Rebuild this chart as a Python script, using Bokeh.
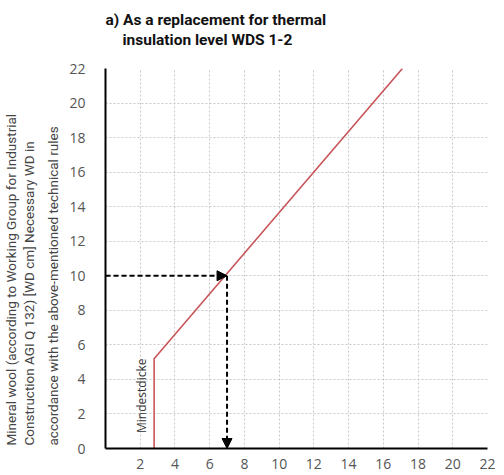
from bokeh.plotting import figure
from bokeh.models import Range1d, FixedTicker, Title, Arrow, NormalHead, Label
from bokeh.embed import file_html
from bokeh.resources import INLINE

# data
curve_x = [2.8, 2.8, 17.1]
curve_y = [0, 5.2, 22]
h_arrow = dict(x_start=0, y_start=10, x_end=7, y_end=10)
v_arrow = dict(x_start=7, y_start=10, x_end=7, y_end=0)
x_ticks = [2, 4, 6, 8, 10, 12, 14, 16, 18, 20, 22]
y_ticks = [0, 2, 4, 6, 8, 10, 12, 14, 16, 18, 20, 22]
title_1 = "a) As a replacement for thermal"
title_2 = "insulation level WDS 1-2"
y_label_lines = ["Mineral wool (according to Working Group for Industrial",
                 "Construction AGI Q 132) [WD cm] Necessary WD in",
                 "accordance with the above-mentioned technical rules"]
note_text = "Mindestdicke"
note_x, note_y = 2.1, 0.9

p = figure(frame_width=382, frame_height=380, output_backend="svg",
           toolbar_location=None, x_range=Range1d(0, 22), y_range=Range1d(0, 22),
           min_border_left=100, min_border_right=11, min_border_bottom=20, min_border_top=68)
p.outline_line_color = None
p.background_fill_color = "white"

title_style = dict(align="left", text_font="Roboto", standoff=0,
                   text_font_size="15.5px", text_font_style="bold", text_color="#111111")
spacer = Title(text=" ", **title_style)
t2 = Title(text=title_2, offset=17, **title_style)
t1 = Title(text=title_1, offset=0, **title_style)
p.add_layout(spacer, "above")
p.add_layout(t2, "above")
p.add_layout(t1, "above")

# y-axis label as three bottom-aligned lines (innermost first)
for i, line in enumerate(reversed(y_label_lines)):
    p.add_layout(Title(text=line, align="left", offset=3, text_font="Roboto",
                       standoff=12 if i == 0 else 0, text_font_size="13.5px",
                       text_font_style="normal", text_color="#444444"), "left")

for ax in (p.xaxis[0], p.yaxis[0]):
    ax.axis_line_color = "black"
    ax.axis_line_width = 2
    ax.major_tick_line_color = None
    ax.minor_tick_line_color = None
    ax.major_label_text_font = "Open Sans"
    ax.major_label_text_font_size = "14px"
    ax.major_label_text_color = "#555555"

p.xaxis.ticker = FixedTicker(ticks=x_ticks)
p.yaxis.ticker = FixedTicker(ticks=y_ticks)
p.xaxis.major_label_standoff = 4
p.yaxis.major_label_standoff = 14

p.xgrid.ticker = FixedTicker(ticks=x_ticks)
for g in (p.xgrid[0], p.ygrid[0]):
    g.grid_line_color = "#c8c8c8"
    g.grid_line_dash = "2 2"
    g.grid_line_width = 1

p.line(curve_x, curve_y, line_color="#c8555a", line_width=1.6)

for a in (h_arrow, v_arrow):
    p.add_layout(Arrow(end=NormalHead(size=10, fill_color="black", line_color="black"),
                       line_color="black", line_width=2, line_dash="5 3", **a))

p.add_layout(Label(x=note_x, y=note_y, text=note_text, angle=1.5708, angle_units="rad",
                   text_font="Open Sans", text_font_size="12px", text_color="#333333",
                   text_align="left", text_baseline="middle"))

open("out.html", "w").write(file_html(p, INLINE))
